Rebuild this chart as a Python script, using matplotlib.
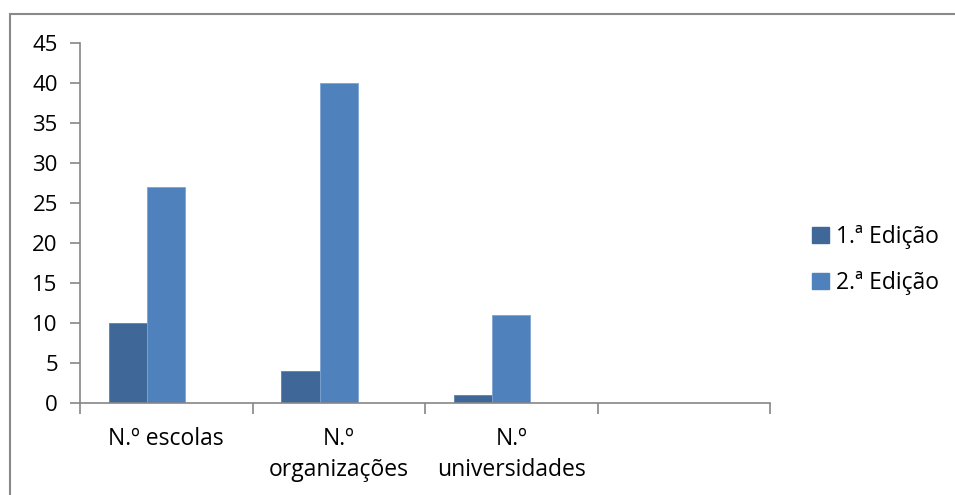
import matplotlib.pyplot as plt
import matplotlib.patches as mpatches
import numpy as np

plt.rcParams['font.family'] = ['Open Sans', 'DejaVu Sans']

categories = ['N.º escolas', 'N.º\norganizações', 'N.º\nuniversidades', '']
edicao1 = [10, 4, 1, 0]
edicao2 = [27, 40, 11, 0]
series_names = ['1.ª Edição', '2.ª Edição']
yticks = list(range(0, 50, 5))

col1 = '#3F6898'
col2 = '#4F81BD'
axis_col = '#868686'

fig = plt.figure(figsize=(9.55, 4.95), dpi=100)
ax = fig.add_axes([80 / 955, 92 / 495, 690 / 955, 360 / 495])

x = np.arange(len(categories))
# three slots per category (third one left empty), gap of 1.5 bar widths
w = 1 / 4.5
ax.bar(x[:3] - w, edicao1[:3], w, color=col1, edgecolor='#5A82B0', linewidth=0.6, label=series_names[0])
ax.bar(x[:3], edicao2[:3], w, color=col2, edgecolor='#7FA3D3', linewidth=0.6, label=series_names[1])

ax.set_xlim(-0.5, 3.5)
ax.set_ylim(0, 45)
ax.set_yticks(yticks)
ax.set_yticklabels([str(v) for v in yticks], fontsize=16)

# category boundaries as x ticks, labels at category centres
ax.set_xticks(np.arange(-0.5, 4, 1))
ax.set_xticklabels([])
ax.set_xticks(x, minor=True)
ax.set_xticklabels(categories, minor=True, fontsize=16.5, va='top', linespacing=1.4)
ax.tick_params(axis='x', which='minor', length=0, pad=17)
ax.tick_params(axis='x', which='major', length=8, color=axis_col, width=1.2)
ax.tick_params(axis='y', length=7, color=axis_col, width=1.2, pad=9)

for s in ['top', 'right']:
    ax.spines[s].set_visible(False)
for s in ['left', 'bottom']:
    ax.spines[s].set_color(axis_col)
    ax.spines[s].set_linewidth(1.2)

leg = fig.legend(handles=[mpatches.Patch(color=col1, label=series_names[0]),
                          mpatches.Patch(color=col2, label=series_names[1])],
                 loc='upper left', bbox_to_anchor=(803 / 955, 1 - 216 / 495),
                 frameon=False, fontsize=16.5, handlelength=0.72, handleheight=0.72,
                 handletextpad=0.33, labelspacing=0.95, borderaxespad=0)

# chart area border
fig.add_artist(mpatches.Rectangle((10 / 955, -0.1), 1.1, 1 - 14 / 495 + 0.1,
                                  transform=fig.transFigure, fill=False,
                                  edgecolor='#898989', linewidth=1.5))

fig.savefig('out.png', dpi=100)
